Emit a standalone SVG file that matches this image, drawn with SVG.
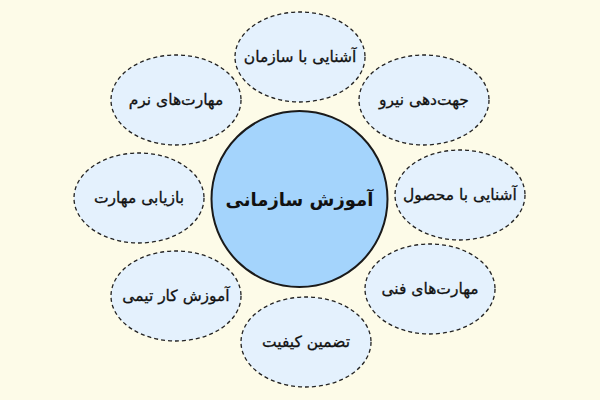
<svg xmlns="http://www.w3.org/2000/svg" width="600" height="400" viewBox="0 0 600 400">
<style>
.sat ellipse{fill:#e4f1fd;stroke:#222;stroke-width:1.3;stroke-dasharray:4 3}
.sat text{font-family:"DejaVu Sans","Noto Sans",sans-serif;font-size:15.5px;fill:#111;stroke:#111;stroke-width:0.3;text-anchor:middle;dominant-baseline:central}
#center circle{fill:#a4d4fc;stroke:#1a1a1a;stroke-width:2}
#center text{font-family:"DejaVu Sans","Noto Sans",sans-serif;font-size:18px;font-weight:bold;fill:#111;text-anchor:middle;dominant-baseline:central}
</style>
<rect width="600" height="400" fill="#fdfbe8"/>
<g id="connectors"></g>
<g id="n1" class="sat"><ellipse cx="300" cy="57" rx="65" ry="45"/><text x="300" y="57" direction="rtl">آشنایی با سازمان</text></g>
<g id="n2" class="sat"><ellipse cx="424" cy="100" rx="65" ry="45"/><text x="424" y="100" direction="rtl">جهت‌دهی نیرو</text></g>
<g id="n3" class="sat"><ellipse cx="460" cy="195" rx="65" ry="45"/><text x="460" y="195" direction="rtl">آشنایی با محصول</text></g>
<g id="n4" class="sat"><ellipse cx="430" cy="289" rx="65" ry="45"/><text x="430" y="289" direction="rtl">مهارت‌های فنی</text></g>
<g id="n5" class="sat"><ellipse cx="306" cy="342" rx="65" ry="45"/><text x="306" y="342" direction="rtl">تضمین کیفیت</text></g>
<g id="n6" class="sat"><ellipse cx="176" cy="296" rx="65" ry="45"/><text x="176" y="296" direction="rtl">آموزش کار تیمی</text></g>
<g id="n7" class="sat"><ellipse cx="139" cy="198" rx="65" ry="45"/><text x="139" y="198" direction="rtl">بازیابی مهارت</text></g>
<g id="n8" class="sat"><ellipse cx="176" cy="100" rx="65" ry="45"/><text x="176" y="100" direction="rtl">مهارت‌های نرم</text></g>
<g id="center"><circle cx="299.5" cy="199" r="88"/><text x="299.5" y="199" direction="rtl">آموزش سازمانی</text></g>
</svg>
